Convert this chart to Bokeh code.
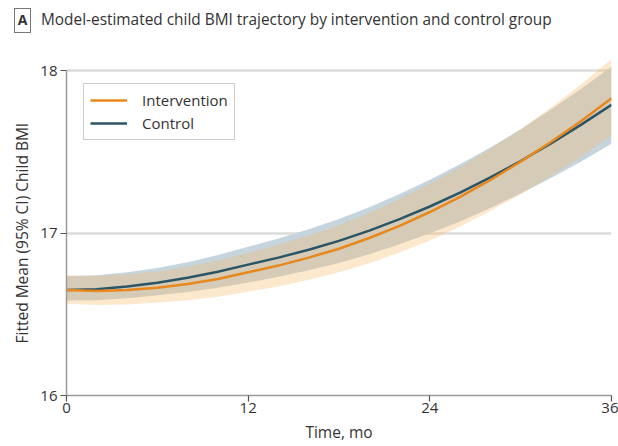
from bokeh.plotting import figure
from bokeh.models import Range1d, FixedTicker, Legend, LegendItem, Div, Title
from bokeh.layouts import column
from bokeh.embed import file_html
from bokeh.resources import INLINE

# ---- data ----
months = [0, 2, 4, 6, 8, 10, 12, 14, 16, 18, 20, 22, 24, 26, 28, 30, 32, 34, 36]

intervention_mean = [16.650, 16.643, 16.649, 16.663, 16.687, 16.718, 16.759, 16.800, 16.849, 16.904,
                     16.970, 17.045, 17.130, 17.223, 17.327, 17.440, 17.561, 17.691, 17.830]
intervention_lower = [16.565, 16.557, 16.561, 16.573, 16.587, 16.608, 16.639, 16.672, 16.713, 16.759,
                      16.815, 16.880, 16.955, 17.040, 17.136, 17.240, 17.351, 17.471, 17.600]
intervention_upper = [16.740, 16.736, 16.746, 16.763, 16.793, 16.831, 16.879, 16.928, 16.985, 17.049,
                      17.125, 17.210, 17.305, 17.406, 17.518, 17.640, 17.774, 17.917, 18.070]

control_mean = [16.650, 16.655, 16.671, 16.695, 16.725, 16.762, 16.806, 16.849, 16.898, 16.952,
                17.015, 17.086, 17.164, 17.249, 17.343, 17.444, 17.553, 17.668, 17.790]
control_lower = [16.585, 16.587, 16.599, 16.617, 16.637, 16.663, 16.696, 16.731, 16.771, 16.816,
                 16.870, 16.931, 16.999, 17.072, 17.155, 17.244, 17.340, 17.441, 17.550]
control_upper = [16.735, 16.741, 16.759, 16.785, 16.821, 16.865, 16.916, 16.967, 17.024, 17.087,
                 17.160, 17.241, 17.329, 17.424, 17.528, 17.639, 17.761, 17.889, 18.025]

x_ticks = [0, 12, 24, 36]
y_ticks = [16, 17, 18]

title_text = "Model-estimated child BMI trajectory by intervention and control group"
panel_letter = "A"
x_title = "Time, mo"
y_title = "Fitted Mean (95% CI) Child BMI"
series_names = ["Intervention", "Control"]

FONT = "Open Sans"
TXT = "#333333"
AX = "#9a9a9a"

header = Div(
    text=('<div style="display:flex;align-items:center;height:40px;font-family:\'Open Sans\';color:#333333;">'
          '<span style="display:inline-block;box-sizing:border-box;margin-left:14px;width:17px;height:25px;'
          'line-height:22px;text-align:center;border:1.3px solid #777777;font-weight:bold;font-size:14px;">'
          + panel_letter + '</span>'
          '<span style="margin-left:10px;font-size:15.4px;">' + title_text + '</span></div>'),
    width=618, height=40, margin=(0, 0, 0, 0))

p = figure(width=618, height=406, output_backend="svg", toolbar_location=None,
           x_range=Range1d(0, 36), y_range=Range1d(16, 18.1),
           min_border_left=66, min_border_right=7, min_border_top=14, min_border_bottom=51,
           margin=(0, 0, 0, 0))
p.outline_line_color = None
p.background_fill_color = "white"

# axes
p.xaxis.ticker = FixedTicker(ticks=x_ticks)
p.yaxis.ticker = FixedTicker(ticks=y_ticks)
p.yaxis.bounds = (16, 18)
p.xaxis.bounds = (0, 36)
for ax in (p.xaxis[0], p.yaxis[0]):
    ax.axis_line_color = AX
    ax.axis_line_width = 1.5
    ax.major_tick_line_color = "#555555"
    ax.major_tick_line_width = 1.2
    ax.major_tick_out = 6
    ax.major_tick_in = 0
    ax.minor_tick_line_color = None
    ax.major_label_text_font = FONT
    ax.major_label_text_font_size = "15px"
    ax.major_label_text_color = TXT
    ax.axis_label_text_font = FONT
    ax.axis_label_text_font_size = "15.5px"
    ax.axis_label_text_color = TXT
    ax.axis_label_text_font_style = "normal"
p.xaxis.axis_label = x_title
p.xaxis.major_label_standoff = 1
p.yaxis.major_label_standoff = 3
p.xaxis.axis_label_standoff = 5

# y-axis title, centred on the 16-18 span of the axis
p.add_layout(Title(text=y_title, align="left", offset=52, text_font=FONT,
                   text_font_size="15.5px", text_color=TXT, text_font_style="normal",
                   standoff=10), "left")

p.xgrid.grid_line_color = None
p.ygrid.ticker = FixedTicker(ticks=[17, 18])
p.ygrid.grid_line_color = "#dcdcdc"
p.ygrid.grid_line_width = 2.5

# bands
p.varea(x=months, y1=control_lower, y2=control_upper, fill_color="#C6D4DD", fill_alpha=1.0)
p.varea(x=months, y1=intervention_lower, y2=intervention_upper, fill_color="#F2BC6C", fill_alpha=0.34)

# lines
r_ctrl = p.line(months, control_mean, line_color="#2B5565", line_width=2.5)
r_int = p.line(months, intervention_mean, line_color="#E8881C", line_width=2.5)

legend = Legend(items=[LegendItem(label=series_names[0], renderers=[r_int]),
                       LegendItem(label=series_names[1], renderers=[r_ctrl])],
                location=(17, 255))
legend.border_line_color = "#999999"
legend.border_line_width = 1.5
legend.background_fill_color = "white"
legend.background_fill_alpha = 1.0
legend.label_text_font = FONT
legend.label_text_font_size = "15px"
legend.label_text_color = TXT
legend.glyph_width = 37
legend.glyph_height = 18
legend.label_height = 18
legend.label_standoff = 15
legend.spacing = 3
legend.padding = 6
legend.margin = 0
p.add_layout(legend, "center")

layout = column(header, p, spacing=0, margin=(0, 0, 0, 0))
open("out.html", "w").write(file_html(layout, INLINE))
